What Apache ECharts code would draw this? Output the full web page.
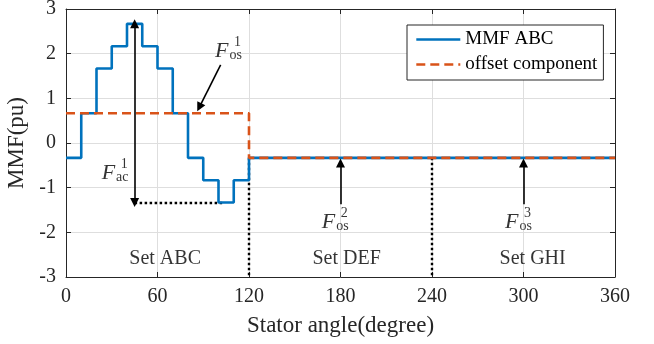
<!DOCTYPE html>
<html>
<head>
<meta charset="utf-8">
<script src="https://cdn.jsdelivr.net/npm/echarts@6/dist/echarts.min.js"></script>
<style>
  html, body { margin: 0; padding: 0; background: #fff; }
  #main { width: 654px; height: 344px; }
</style>
</head>
<body>
<div id="main"></div>
<script>
// step breakpoints (degree) and MMF of phase set ABC (pu)
var angles = [0, 10, 20, 30, 40, 50, 60, 70, 80, 90, 100, 110, 120, 360];
var mmfAbc = [-0.333, 0.667, 1.667, 2.167, 2.667, 2.167, 1.667, 0.667, -0.333, -0.833, -1.333, -0.833, -0.333, -0.333];
// offset component
var offsetAngles = [0, 120, 360];
var offsetValues = [0.667, -0.333, -0.333];

// region labels
var setNames = ['Set ABC', 'Set DEF', 'Set GHI'];
var setPos = [[65, -2.6], [184, -2.6], [306, -2.6]];

// F labels: [x, y] of left edge of F, subscript, superscript
var fPos = [[97.7, 2.05], [23.4, -0.68], [167.7, -1.77], [287.9, -1.78]];
var fSub = ['os', 'ac', 'os', 'os'];
var fSup = ['1', '1', '2', '3'];

// arrows [from, to]
var arrows = [
    [[101.4, 1.75], [87.4, 0.80]],
    [[180, -1.37], [180, -0.45]],
    [[300, -1.37], [300, -0.45]]
];
var doubleArrow = [[45, 2.667], [45, -1.333]];
// black dotted guides
var dotted = [
    [[45, -1.333], [103, -1.333]],
    [[120, -0.333], [120, -3]],
    [[240, -0.333], [240, -3]]
];

var FONT = 'Liberation Serif';
var INK = '#262626';

var myChart = echarts.init(document.getElementById('main'));

function pairs(xs, ys) {
    var out = [];
    for (var i = 0; i < xs.length; i++) out.push([xs[i], ys[i]]);
    return out;
}

var fData = [], supData = [];
for (var i = 0; i < fPos.length; i++) {
    fData.push({ value: fPos[i], sub: fSub[i] });
    supData.push({ value: fPos[i], sup: fSup[i] });
}

var option = {
    animation: false,
    backgroundColor: '#fff',
    textStyle: { fontFamily: FONT },
    grid: { left: 66, right: 39, top: 9, bottom: 67, containLabel: false, outerBoundsMode: 'none' },
    legend: {
        data: ['MMF ABC', 'offset component'],
        orient: 'vertical',
        left: 407,
        top: 25,
        padding: [5, 6, 6, 8],
        itemGap: 6,
        itemWidth: 44,
        itemHeight: 14,
        borderColor: INK,
        borderWidth: 1,
        backgroundColor: '#fff',
        itemStyle: { opacity: 0 },
        lineStyle: { width: 2.6 },
        textStyle: { fontFamily: FONT, fontSize: 19, color: '#000' }
    },
    xAxis: [{
        type: 'value',
        min: 0, max: 360, interval: 60,
        name: 'Stator angle(degree)',
        nameLocation: 'middle',
        nameGap: 37,
        nameTextStyle: { fontFamily: FONT, fontSize: 23, color: INK },
        axisLine: { onZero: false, lineStyle: { color: INK } },
        axisTick: { inside: true, length: 5, lineStyle: { color: INK } },
        axisLabel: { fontFamily: FONT, fontSize: 20, color: INK, margin: 10 },
        splitLine: { lineStyle: { color: '#dedede' } }
    }, {
        type: 'value',
        position: 'top',
        min: 0, max: 360, interval: 60,
        axisLine: { show: true, onZero: false, lineStyle: { color: INK } },
        axisTick: { inside: true, length: 5, lineStyle: { color: INK } },
        axisLabel: { show: false },
        splitLine: { show: false }
    }],
    yAxis: [{
        type: 'value',
        min: -3, max: 3, interval: 1,
        name: 'MMF(pu)',
        nameLocation: 'middle',
        nameGap: 30,
        nameTextStyle: { fontFamily: FONT, fontSize: 23, color: INK },
        axisLine: { show: true, onZero: false, lineStyle: { color: INK } },
        axisTick: { show: true, inside: true, length: 5, lineStyle: { color: INK } },
        axisLabel: { fontFamily: FONT, fontSize: 20, color: INK, margin: 10 },
        splitLine: { lineStyle: { color: '#dedede' } }
    }, {
        type: 'value',
        position: 'right',
        min: -3, max: 3, interval: 1,
        axisLine: { show: true, onZero: false, lineStyle: { color: INK } },
        axisTick: { show: true, inside: true, length: 5, lineStyle: { color: INK } },
        axisLabel: { show: false },
        splitLine: { show: false }
    }],
    series: [{
        name: 'MMF ABC',
        type: 'line',
        step: 'end',
        symbol: 'none',
        data: pairs(angles, mmfAbc),
        lineStyle: { color: '#0072BD', width: 2.6 },
        itemStyle: { color: '#0072BD' },
        z: 3
    }, {
        name: 'offset component',
        type: 'line',
        step: 'end',
        symbol: 'none',
        data: pairs(offsetAngles, offsetValues),
        lineStyle: { color: '#D95319', width: 2.6, type: [9, 5] },
        itemStyle: { color: '#D95319' },
        z: 4
    }, {
        type: 'lines',
        coordinateSystem: 'cartesian2d',
        polyline: false,
        symbol: ['none', 'none'],
        data: dotted.map(function (c) { return { coords: c }; }),
        lineStyle: { color: '#000', width: 2.4, type: [2.5, 2.5], opacity: 1 },
        z: 2
    }, {
        type: 'lines',
        coordinateSystem: 'cartesian2d',
        polyline: false,
        symbol: ['none', 'triangle'],
        symbolSize: 9,
        data: arrows.map(function (c) { return { coords: c }; }),
        lineStyle: { color: '#000', width: 1.6, opacity: 1 },
        z: 5
    }, {
        type: 'lines',
        coordinateSystem: 'cartesian2d',
        polyline: false,
        symbol: ['triangle', 'triangle'],
        symbolSize: 9,
        data: [{ coords: doubleArrow }],
        lineStyle: { color: '#000', width: 1.6, opacity: 1 },
        z: 5
    }, {
        type: 'scatter',
        symbolSize: 0,
        silent: true,
        data: setPos.map(function (p, k) { return { value: p, name: setNames[k] }; }),
        label: {
            show: true,
            position: 'inside',
            formatter: function (p) { return p.name; },
            fontFamily: FONT, fontSize: 20, color: '#000'
        },
        z: 6
    }, {
        type: 'scatter',
        symbolSize: 0,
        silent: true,
        data: fData,
        label: {
            show: true,
            position: 'inside',
            align: 'left',
            verticalAlign: 'middle',
            formatter: function (p) { return '{f|F}{s|' + p.data.sub + '}'; },
            rich: {
                f: { fontFamily: FONT, fontStyle: 'italic', fontSize: 22, color: '#000', lineHeight: 22, verticalAlign: 'middle' },
                s: { fontFamily: FONT, fontSize: 14, color: '#000', lineHeight: 22, verticalAlign: 'bottom', padding: [0, 0, 0, 1] }
            }
        },
        z: 6
    }, {
        type: 'scatter',
        symbolSize: 0,
        silent: true,
        data: supData,
        label: {
            show: true,
            position: 'inside',
            align: 'left',
            verticalAlign: 'middle',
            offset: [19, -9],
            formatter: function (p) { return p.data.sup; },
            fontFamily: FONT, fontSize: 14, color: '#000'
        },
        z: 6
    }]
};

myChart.setOption(option);
</script>
</body>
</html>
